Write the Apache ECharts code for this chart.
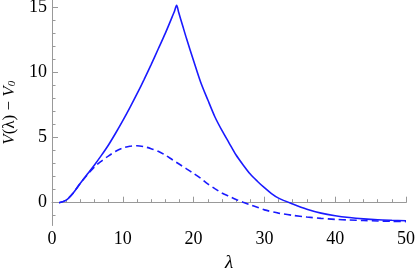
<!DOCTYPE html>
<html>
<head>
<meta charset="utf-8">
<script src="https://cdn.jsdelivr.net/npm/echarts@6/dist/echarts.min.js"></script>
<style>
  html, body { margin: 0; padding: 0; background: #fff; }
  #chart { width: 415px; height: 276px; }
</style>
</head>
<body>
<div id="chart"></div>
<script>
// values
const lambdaSolid = [1, 2, 3, 4, 5, 6, 7, 8, 9, 10, 11, 12, 13, 14, 15, 16, 17, 17.3, 17.6, 17.9, 18.5, 19, 20, 21, 22, 23, 24, 25, 26, 27, 28, 29, 30, 31, 32, 34, 36, 38, 40, 42, 44, 46, 48, 50];
const solidValues = [0, 0.2, 0.75, 1.5, 2.2, 2.9, 3.65, 4.45, 5.35, 6.3, 7.3, 8.35, 9.45, 10.6, 11.8, 13.0, 14.3, 14.7, 15.15, 14.6, 13.5, 12.6, 10.9, 9.25, 7.9, 6.6, 5.55, 4.6, 3.66, 2.9, 2.2, 1.65, 1.15, 0.7, 0.35, -0.1, -0.5, -0.8, -1.0, -1.14, -1.24, -1.31, -1.35, -1.38];
const lambdaDashed = [1, 2, 3, 4, 5, 6, 7, 8, 9, 10, 11, 12, 13, 14, 15, 16, 17, 18, 19, 20, 21, 22, 23, 24, 25, 26, 27, 28, 29, 30, 32, 34, 36, 38, 40, 42, 44, 46, 48, 50];
const dashedValues = [0, 0.2, 0.75, 1.5, 2.15, 2.75, 3.2, 3.6, 3.95, 4.2, 4.33, 4.37, 4.3, 4.15, 3.95, 3.65, 3.3, 2.95, 2.6, 2.25, 1.88, 1.45, 1.08, 0.75, 0.5, 0.25, 0.03, -0.17, -0.35, -0.55, -0.8, -0.97, -1.1, -1.2, -1.28, -1.33, -1.37, -1.4, -1.43, -1.45];
const yMajorTicks = [0, 5, 10, 15];
const yMinorTicks = [-1, 1, 2, 3, 4, 6, 7, 8, 9, 11, 12, 13, 14];

const pairs = (xs, ys) => xs.map((x, i) => [x, ys[i]]);

const chart = echarts.init(document.getElementById('chart'), null, { renderer: 'canvas' });
const fontFam = '"Liberation Serif", "Times New Roman", serif';
const tickColor = '#999';

const option = {
    animation: false,
    grid: { left: 52, right: 9, top: 0, bottom: 50.5, containLabel: false, outerBoundsMode: 'none' },
    xAxis: {
        type: 'value',
        min: 0,
        max: 50,
        interval: 10,
        name: 'λ',
        nameLocation: 'middle',
        nameGap: 27,
        nameTextStyle: { fontFamily: fontFam, fontSize: 19, color: '#000', fontStyle: 'italic' },
        axisLine: { lineStyle: { color: tickColor, width: 1 } },
        axisTick: { inside: true, length: 6, lineStyle: { color: tickColor } },
        minorTick: { show: true, splitNumber: 5, length: 3.5, lineStyle: { color: tickColor } },
        axisLabel: { fontFamily: fontFam, fontSize: 18, color: '#000', margin: 5 },
        splitLine: { show: false }
    },
    yAxis: [{
        type: 'value',
        min: -1.75,
        max: 15.56,
        name: '{i|V}(λ) − {i|V}{sub|0}',
        nameLocation: 'middle',
        nameGap: 31,
        nameTextStyle: {
            fontFamily: fontFam, fontSize: 17, color: '#000',
            rich: {
                i: { fontFamily: fontFam, fontSize: 17, fontStyle: 'italic', color: '#000' },
                sub: { fontFamily: fontFam, fontSize: 11, fontStyle: 'italic', color: '#000', verticalAlign: 'bottom', padding: [7, 0, 0, 0] }
            }
        },
        axisLine: { show: true, lineStyle: { color: tickColor, width: 1 } },
        axisTick: { show: true, inside: true, length: 6, customValues: yMajorTicks, lineStyle: { color: tickColor } },
        axisLabel: { customValues: yMajorTicks, fontFamily: fontFam, fontSize: 18, color: '#000', margin: 5 },
        splitLine: { show: false }
    }, {
        type: 'value',
        position: 'left',
        offset: 0,
        min: -1.75,
        max: 15.56,
        axisLine: { show: false },
        axisTick: { show: true, inside: true, length: 3.5, customValues: yMinorTicks, lineStyle: { color: tickColor } },
        axisLabel: { show: false },
        splitLine: { show: false }
    }],
    series: [{
        type: 'line',
        data: pairs(lambdaSolid, solidValues),
        showSymbol: false,
        smooth: 0.3,
        lineStyle: { color: '#1a1aff', width: 1.6 }
    }, {
        type: 'line',
        data: pairs(lambdaDashed, dashedValues),
        showSymbol: false,
        smooth: 0.3,
        lineStyle: { color: '#1a1aff', width: 1.6, type: [7, 4] }
    }]
};
chart.setOption(option);
</script>
</body>
</html>
